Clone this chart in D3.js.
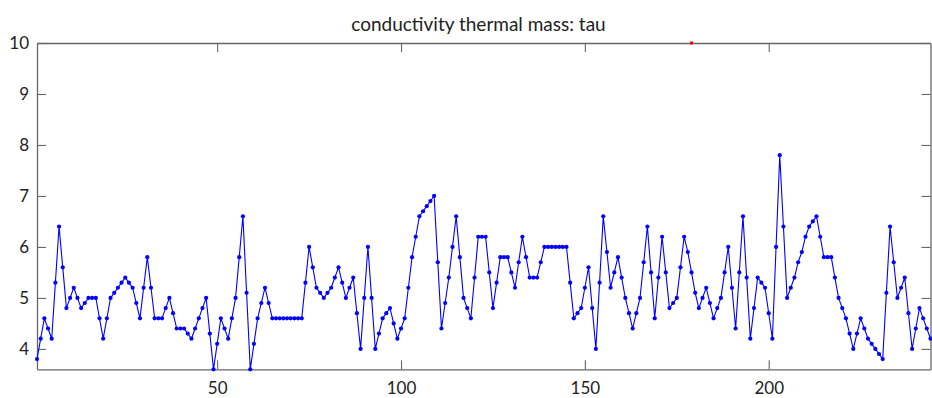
<!DOCTYPE html>
<html>
<head>
<meta charset="utf-8">
<script src="https://cdn.jsdelivr.net/npm/d3@7"></script>
<style>
  body { margin: 0; background: #fff; }
</style>
</head>
<body>
<script>
// tau per sample
var tau = [
  3.8, 4.2, 4.6, 4.4, 4.2, 5.3, 6.4, 5.6, 4.8, 5.0,
  5.2, 5.0, 4.8, 4.9, 5.0, 5.0, 5.0, 4.6, 4.2, 4.6,
  5.0, 5.1, 5.2, 5.3, 5.4, 5.3, 5.2, 4.9, 4.6, 5.2,
  5.8, 5.2, 4.6, 4.6, 4.6, 4.8, 5.0, 4.7, 4.4, 4.4,
  4.4, 4.3, 4.2, 4.4, 4.6, 4.8, 5.0, 4.3, 3.6, 4.1,
  4.6, 4.4, 4.2, 4.6, 5.0, 5.8, 6.6, 5.1, 3.6, 4.1,
  4.6, 4.9, 5.2, 4.9, 4.6, 4.6, 4.6, 4.6, 4.6, 4.6,
  4.6, 4.6, 4.6, 5.3, 6.0, 5.6, 5.2, 5.1, 5.0, 5.1,
  5.2, 5.4, 5.6, 5.3, 5.0, 5.2, 5.4, 4.7, 4.0, 5.0,
  6.0, 5.0, 4.0, 4.3, 4.6, 4.7, 4.8, 4.5, 4.2, 4.4,
  4.6, 5.2, 5.8, 6.2, 6.6, 6.7, 6.8, 6.9, 7.0, 5.7,
  4.4, 4.9, 5.4, 6.0, 6.6, 5.8, 5.0, 4.8, 4.6, 5.4,
  6.2, 6.2, 6.2, 5.5, 4.8, 5.3, 5.8, 5.8, 5.8, 5.5,
  5.2, 5.7, 6.2, 5.8, 5.4, 5.4, 5.4, 5.7, 6.0, 6.0,
  6.0, 6.0, 6.0, 6.0, 6.0, 5.3, 4.6, 4.7, 4.8, 5.2,
  5.6, 4.8, 4.0, 5.3, 6.6, 5.9, 5.2, 5.5, 5.8, 5.4,
  5.0, 4.7, 4.4, 4.7, 5.0, 5.7, 6.4, 5.5, 4.6, 5.4,
  6.2, 5.5, 4.8, 4.9, 5.0, 5.6, 6.2, 5.9, 5.5, 5.1,
  4.8, 5.0, 5.2, 4.9, 4.6, 4.8, 5.0, 5.5, 6.0, 5.2,
  4.4, 5.5, 6.6, 5.4, 4.2, 4.8, 5.4, 5.3, 5.2, 4.7,
  4.2, 6.0, 7.8, 6.4, 5.0, 5.2, 5.4, 5.7, 5.9, 6.2,
  6.4, 6.5, 6.6, 6.2, 5.8, 5.8, 5.8, 5.4, 5.0, 4.8,
  4.6, 4.3, 4.0, 4.3, 4.6, 4.4, 4.2, 4.1, 4.0, 3.9,
  3.8, 5.1, 6.4, 5.7, 5.0, 5.2, 5.4, 4.7, 4.0, 4.4,
  4.8, 4.6, 4.4, 4.2
];
// sample number for each value
var sample = d3.range(1, tau.length + 1);

// the single red marker at the top
var redX = [179];
var redY = [10];

var xTicks = [50, 100, 150, 200];
var yTicks = [4, 5, 6, 7, 8, 9, 10];
var titleText = "conductivity thermal mass: tau";

var W = 932, H = 398;
var margin = {top: 43, right: 1.5, bottom: 28.7, left: 37},
    width = W - margin.left - margin.right,
    height = H - margin.top - margin.bottom;

var svg = d3.select("body")
  .append("svg")
    .attr("width", W)
    .attr("height", H)
    .style("font-family", "Lato, sans-serif");

var g = svg.append("g")
    .attr("transform", "translate(" + margin.left + "," + margin.top + ")");

var x = d3.scaleLinear().domain([1, 244]).range([0, width]);
var y = d3.scaleLinear().domain([3.6, 10]).range([height, 0]);

var axisColor = "#666";

// axes: ticks point inward on all four sides
function styleAxis(sel) {
  sel.select(".domain").attr("stroke", axisColor).attr("stroke-width", 1.3);
  sel.selectAll(".tick line").attr("stroke", axisColor).attr("stroke-width", 1.1);
  sel.selectAll("text").attr("fill", "#222").style("font-size", "17px")
    .style("font-family", "Lato, sans-serif");
}

g.append("g")
  .attr("transform", "translate(0," + height + ")")
  .call(d3.axisBottom(x).tickValues(xTicks).tickSize(-9).tickSizeOuter(0).tickPadding(13)
    .tickFormat(d3.format("d")))
  .call(styleAxis);

g.append("g")
  .call(d3.axisTop(x).tickValues(xTicks).tickSize(-9).tickSizeOuter(0).tickFormat(""))
  .call(styleAxis);

g.append("g")
  .call(d3.axisLeft(y).tickValues(yTicks).tickSize(-9).tickSizeOuter(0).tickPadding(8)
    .tickFormat(d3.format("d")))
  .call(styleAxis);

g.append("g")
  .attr("transform", "translate(" + width + ",0)")
  .call(d3.axisRight(y).tickValues(yTicks).tickSize(-9).tickSizeOuter(0).tickFormat(""))
  .call(styleAxis);

// the series
var line = d3.line()
  .x(function(d, i) { return x(sample[i]); })
  .y(function(d) { return y(d); });

g.append("path")
  .datum(tau)
  .attr("fill", "none")
  .attr("stroke", "#0000ff")
  .attr("stroke-width", 1.1)
  .attr("d", line);

g.selectAll("circle.pt")
  .data(tau)
  .enter()
  .append("circle")
    .attr("class", "pt")
    .attr("cx", function(d, i) { return x(sample[i]); })
    .attr("cy", function(d) { return y(d); })
    .attr("r", 2.1)
    .attr("fill", "#0000ff");

g.selectAll("rect.red")
  .data(redX)
  .enter()
  .append("rect")
    .attr("class", "red")
    .attr("x", function(d) { return x(d) - 1.5; })
    .attr("y", function(d, i) { return y(redY[i]) - 1.5; })
    .attr("width", 3)
    .attr("height", 3)
    .attr("fill", "#ff0000");

// title
svg.append("text")
  .attr("x", 478.5)
  .attr("y", 31)
  .attr("text-anchor", "middle")
  .style("font-size", "19px")
  .attr("fill", "#222")
  .text(titleText);
</script>
</body>
</html>
